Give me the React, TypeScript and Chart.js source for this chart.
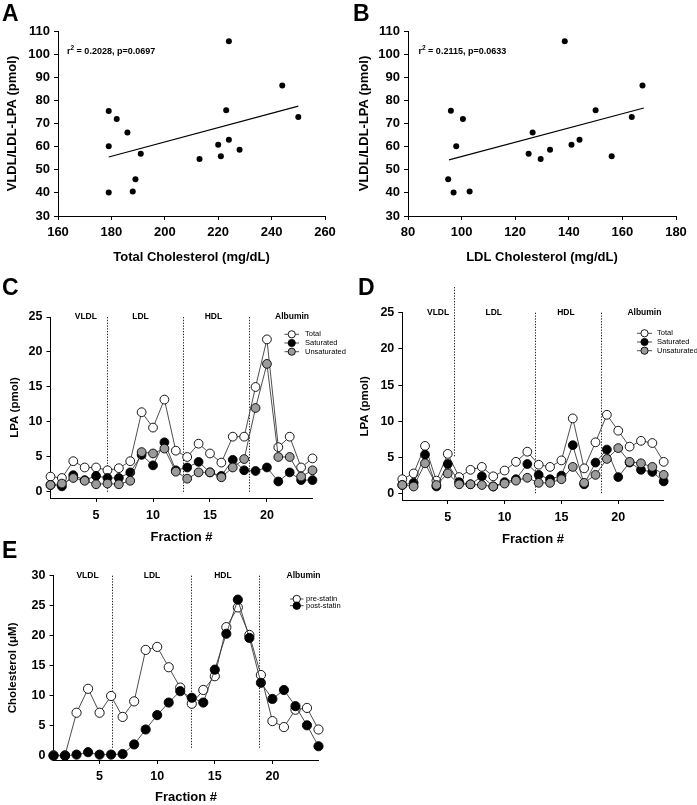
import React, { useEffect, useRef } from 'react';
import { Chart, registerables } from 'chart.js';
Chart.register(...registerables);

const FONT = '"Liberation Sans", Arial, Helvetica, sans-serif';

// ---------- Panel A ----------
const totalCholA = [179, 179, 179, 182, 186, 191, 189, 188, 213, 220, 221, 223, 224, 224, 228, 244, 250];
const lpaA = [75.4, 60.2, 40.2, 72, 66.1, 56.9, 45.9, 40.6, 54.7, 60.8, 55.8, 75.7, 105.6, 63, 58.7, 86.4, 72.8];
const trendAX = [179, 250];
const trendAY = [55.5, 77.5];
const statA = ['r', '2', ' = 0.2028, p=0.0697'];

// ---------- Panel B ----------
const ldlCholB = [96, 98, 95, 97, 100.5, 103, 125, 126.5, 129.5, 133, 138.5, 141, 144, 150, 156, 163.5, 167.5];
const lpaB = [75.5, 60.2, 45.9, 40.2, 72, 40.6, 56.9, 66.1, 54.7, 58.7, 105.6, 60.8, 63, 75.7, 55.8, 72.8, 86.4];
const trendBX = [95.3, 168];
const trendBY = [54.3, 76.7];
const statB = ['r', '2', ' = 0.2115, p=0.0633'];

// ---------- Fractions ----------
const fractions = [1, 2, 3, 4, 5, 6, 7, 8, 9, 10, 11, 12, 13, 14, 15, 16, 17, 18, 19, 20, 21, 22, 23, 24];
const regionNames = ['VLDL', 'LDL', 'HDL', 'Albumin'];

// ---------- Panel C ----------
const totalC = [2.2, 2.0, 4.4, 3.5, 3.5, 3.1, 3.4, 4.4, 11.4, 9.2, 13.2, 5.9, 5.0, 6.9, 5.5, 4.2, 7.9, 7.9, 15.0, 21.8, 6.4, 7.9, 3.5, 4.8];
const saturatedC = [1.0, 0.8, 2.4, 1.7, 2.3, 2.0, 2.0, 2.8, 5.3, 3.8, 7.1, 3.1, 3.5, 4.3, 2.8, 2.3, 4.6, 3.1, 3.0, 3.5, 1.5, 2.8, 1.7, 1.7];
const unsaturatedC = [1.0, 1.2, 2.0, 1.6, 1.1, 1.2, 1.1, 1.6, 5.7, 5.5, 6.2, 2.9, 1.9, 2.8, 2.8, 2.1, 3.5, 4.7, 12.0, 18.3, 5.0, 5.0, 2.2, 3.1];
const regionLabelXC = [4.1, 8.9, 15.3, 22.2];
const boundariesC = [6, 12.65, 18.4];

// ---------- Panel D ----------
const totalD = [2.0, 2.8, 6.6, 1.8, 5.5, 2.3, 3.3, 3.7, 2.4, 3.2, 4.4, 5.8, 4.0, 3.7, 4.6, 10.4, 3.5, 7.1, 10.9, 8.7, 6.5, 7.3, 7.0, 4.4];
const saturatedD = [1.2, 1.5, 5.4, 1.0, 4.1, 1.6, 1.3, 2.4, 1.0, 1.6, 2.0, 4.1, 2.6, 2.0, 2.5, 6.7, 1.3, 4.3, 6.1, 2.3, 4.3, 3.3, 3.0, 1.7];
const unsaturatedD = [1.2, 1.0, 4.2, 1.2, 2.8, 1.3, 1.3, 1.2, 1.0, 1.4, 1.8, 2.2, 1.5, 1.5, 2.0, 3.7, 1.5, 2.6, 4.8, 6.3, 4.4, 4.2, 3.7, 2.6];
const regionLabelXD = [4.15, 9.05, 15.4, 22.3];
const boundariesD = [5.55, 12.7, 18.5];

// ---------- Panel E ----------
const preStatin = [0, 0, 7.1, 11.1, 7.1, 9.9, 6.4, 9.0, 17.6, 18.1, 14.7, 11.3, 8.6, 10.9, 13.2, 21.4, 24.7, 20.1, 13.4, 5.7, 4.7, 7.6, 7.9, 4.3];
const postStatin = [-0.1, -0.1, 0.1, 0.5, 0.1, 0.1, 0.2, 1.8, 4.3, 6.7, 8.8, 10.7, 9.6, 8.8, 14.3, 20.3, 26.0, 19.6, 12.1, 9.4, 10.9, 8.2, 5.0, 1.5];
const regionLabelXE = [3.95, 9.55, 15.7, 22.7];
const boundariesE = [6.05, 12.9, 18.8];

const fracTicks = [5, 10, 15, 20];

type Rect = { x: number; y: number; w: number; h: number };
type Area = { l: number; t: number; r: number; b: number };

interface Spec {
  box: Rect;
  area: Area;
  xMin: number; xMax: number; xTicks: number[]; xTitle: string;
  yMin: number; yMax: number; yTicks: number[]; yTitle: string;
  tickSize: number; yTitleSize: number; yTitlePad: number;
  xTickPad: number; xTitlePad: number;
  datasets: any[];
  letter: { text: string; x: number; y: number };
  drawBefore?: (ctx: CanvasRenderingContext2D, h: Helpers) => void;
  drawAfter?: (ctx: CanvasRenderingContext2D, h: Helpers) => void;
}

interface Helpers {
  px: (v: number) => number;
  py: (v: number) => number;
  cx: (pageX: number) => number;
  cy: (pageY: number) => number;
}

function scatterSet(xs: number[], ys: number[]) {
  return {
    type: 'line',
    data: xs.map((x, i) => ({ x, y: ys[i] })),
    showLine: false,
    pointRadius: 3,
    pointBackgroundColor: '#000',
    pointBorderWidth: 0,
    borderWidth: 0,
    clip: false,
  };
}

function trendSet(xs: number[], ys: number[]) {
  return {
    type: 'line',
    data: xs.map((x, i) => ({ x, y: ys[i] })),
    showLine: true,
    borderColor: '#000',
    borderWidth: 1.2,
    pointRadius: 0,
    clip: false,
  };
}

function fracSet(ys: number[], fill: string, order: number, r: number) {
  return {
    type: 'line',
    data: fractions.map((x, i) => ({ x, y: ys[i] })),
    showLine: true,
    borderColor: '#3a3a3a',
    borderWidth: 0.9,
    backgroundColor: fill,
    pointBackgroundColor: fill,
    pointBorderColor: '#000',
    pointBorderWidth: 0.9,
    pointRadius: r,
    tension: 0,
    fill: false,
    clip: false,
    order,
  };
}

function drawStat(ctx: CanvasRenderingContext2D, parts: string[], x: number, y: number) {
  ctx.fillStyle = '#000';
  ctx.textBaseline = 'alphabetic';
  ctx.textAlign = 'left';
  ctx.font = `bold 9px ${FONT}`;
  ctx.fillText(parts[0], x, y);
  let cx = x + ctx.measureText(parts[0]).width;
  ctx.font = `bold 6.5px ${FONT}`;
  ctx.fillText(parts[1], cx, y - 3.8);
  cx += ctx.measureText(parts[1]).width;
  ctx.font = `bold 9px ${FONT}`;
  ctx.fillText(parts[2], cx, y);
}

function drawRegions(ctx: CanvasRenderingContext2D, h: Helpers, labelX: number[], yVal: number) {
  ctx.fillStyle = '#000';
  ctx.font = `bold 8.5px ${FONT}`;
  ctx.textAlign = 'center';
  ctx.textBaseline = 'middle';
  regionNames.forEach((n, i) => ctx.fillText(n, h.px(labelX[i]), h.py(yVal)));
}

function drawDotted(ctx: CanvasRenderingContext2D, x: number, y0: number, y1: number) {
  ctx.save();
  ctx.strokeStyle = '#222';
  ctx.lineWidth = 1;
  ctx.setLineDash([1.3, 1.5]);
  ctx.beginPath();
  ctx.moveTo(Math.round(x) + 0.5, y0);
  ctx.lineTo(Math.round(x) + 0.5, y1);
  ctx.stroke();
  ctx.restore();
}

function drawLegend(
  ctx: CanvasRenderingContext2D, h: Helpers, names: string[], fills: string[],
  x0: number, x1: number, tx: number, ys: number[], r: number, size: number
) {
  names.forEach((n, i) => {
    const y = h.cy(ys[i]);
    ctx.strokeStyle = '#3a3a3a';
    ctx.lineWidth = 0.9;
    ctx.beginPath();
    ctx.moveTo(h.cx(x0), y);
    ctx.lineTo(h.cx(x1), y);
    ctx.stroke();
    ctx.beginPath();
    ctx.arc(h.cx((x0 + x1) / 2), y, r, 0, Math.PI * 2);
    ctx.fillStyle = fills[i];
    ctx.fill();
    ctx.strokeStyle = '#000';
    ctx.stroke();
    ctx.fillStyle = '#000';
    ctx.font = `${size}px ${FONT}`;
    ctx.textAlign = 'left';
    ctx.textBaseline = 'middle';
    ctx.fillText(n, h.cx(tx), y);
  });
}

function buildConfig(spec: Spec): any {
  const { box, area } = spec;
  const YW = area.l - box.x;
  const XH = box.y + box.h - area.b;
  const padTop = area.t - box.y;
  const padRight = box.x + box.w - area.r;
  const helpers = (chart: any): Helpers => ({
    px: (v) => chart.scales.x.getPixelForValue(v),
    py: (v) => chart.scales.y.getPixelForValue(v),
    cx: (p) => p - box.x,
    cy: (p) => p - box.y,
  });
  const plugin = {
    id: 'annot',
    beforeDatasetsDraw(chart: any) {
      if (spec.drawBefore) {
        const ctx = chart.ctx;
        ctx.save();
        spec.drawBefore(ctx, helpers(chart));
        ctx.restore();
      }
    },
    afterDraw(chart: any) {
      const ctx = chart.ctx;
      const h = helpers(chart);
      ctx.save();
      ctx.fillStyle = '#000';
      ctx.font = `bold 23px ${FONT}`;
      ctx.textAlign = 'left';
      ctx.textBaseline = 'alphabetic';
      ctx.fillText(spec.letter.text, h.cx(spec.letter.x), h.cy(spec.letter.y));
      if (spec.drawAfter) spec.drawAfter(ctx, h);
      ctx.restore();
    },
  };
  const tickFont = { family: FONT, size: spec.tickSize, weight: 'bold' };
  return {
    type: 'line',
    data: { datasets: spec.datasets },
    options: {
      responsive: false,
      maintainAspectRatio: false,
      animation: false,
      devicePixelRatio: 1,
      events: [],
      layout: { padding: { left: 0, top: padTop, right: padRight, bottom: 0 }, autoPadding: false },
      plugins: { legend: { display: false }, tooltip: { enabled: false } },
      scales: {
        x: {
          type: 'linear',
          min: spec.xMin,
          max: spec.xMax,
          afterBuildTicks: (s: any) => { s.ticks = spec.xTicks.map((v) => ({ value: v })); },
          afterFit: (s: any) => { s.height = XH; s.paddingLeft = 0; s.paddingRight = 0; },
          grid: { display: true, drawOnChartArea: false, drawTicks: true, tickLength: 4, tickColor: '#000', tickWidth: 1 },
          border: { display: true, color: '#000', width: 1 },
          ticks: { color: '#000', font: tickFont, padding: spec.xTickPad, maxRotation: 0, autoSkip: false },
          title: { display: true, text: spec.xTitle, color: '#000', font: { family: FONT, size: 13, weight: 'bold' }, padding: { top: 0, bottom: spec.xTitlePad } },
        },
        y: {
          type: 'linear',
          min: spec.yMin,
          max: spec.yMax,
          afterBuildTicks: (s: any) => { s.ticks = spec.yTicks.map((v) => ({ value: v })); },
          afterFit: (s: any) => { s.width = YW; s.paddingTop = 0; s.paddingBottom = 0; },
          grid: { display: true, drawOnChartArea: false, drawTicks: true, tickLength: 4, tickColor: '#000', tickWidth: 1 },
          border: { display: true, color: '#000', width: 1 },
          ticks: { color: '#000', font: tickFont, padding: 4, autoSkip: false },
          title: { display: true, text: spec.yTitle, color: '#000', font: { family: FONT, size: spec.yTitleSize, weight: 'bold' }, padding: { top: spec.yTitlePad, bottom: 0 } },
        },
      },
    },
    plugins: [plugin],
  };
}

const GREY = '#9b9b9b';

const specA: Spec = {
  box: { x: 0, y: 0, w: 340, h: 268 },
  area: { l: 58, t: 31, r: 325, b: 216 },
  xMin: 160, xMax: 260, xTicks: [160, 180, 200, 220, 240, 260], xTitle: 'Total Cholesterol (mg/dL)',
  yMin: 30, yMax: 110, yTicks: [30, 40, 50, 60, 70, 80, 90, 100, 110], yTitle: 'VLDL/LDL-LPA (pmol)',
  tickSize: 13, yTitleSize: 13, yTitlePad: 5, xTickPad: 5, xTitlePad: 3,
  datasets: [scatterSet(totalCholA, lpaA), trendSet(trendAX, trendAY)],
  letter: { text: 'A', x: 2, y: 21 },
  drawAfter: (ctx, h) => drawStat(ctx, statA, h.cx(67), h.cy(53.5)),
};

const specB: Spec = {
  box: { x: 350, y: 0, w: 340, h: 268 },
  area: { l: 408, t: 31, r: 676, b: 216 },
  xMin: 80, xMax: 180, xTicks: [80, 100, 120, 140, 160, 180], xTitle: 'LDL Cholesterol (mg/dL)',
  yMin: 30, yMax: 110, yTicks: [30, 40, 50, 60, 70, 80, 90, 100, 110], yTitle: 'VLDL/LDL-LPA (pmol)',
  tickSize: 13, yTitleSize: 13, yTitlePad: 7, xTickPad: 5, xTitlePad: 3,
  datasets: [scatterSet(ldlCholB, lpaB), trendSet(trendBX, trendBY)],
  letter: { text: 'B', x: 353, y: 21 },
  drawAfter: (ctx, h) => drawStat(ctx, statB, h.cx(418.5), h.cy(53.5)),
};

const specC: Spec = {
  box: { x: 0, y: 270, w: 350, h: 278 },
  area: { l: 50.5, t: 317, r: 312.5, b: 498 },
  xMin: 1, xMax: 24, xTicks: fracTicks, xTitle: 'Fraction #',
  yMin: -0.86, yMax: 25, yTicks: [0, 5, 10, 15, 20, 25], yTitle: 'LPA (pmol)',
  tickSize: 12.5, yTitleSize: 11.5, yTitlePad: 8, xTickPad: 6, xTitlePad: 3,
  datasets: [
    fracSet(unsaturatedC, GREY, 0, 4.4),
    fracSet(saturatedC, '#000', 1, 4.4),
    fracSet(totalC, '#fff', 2, 4.4),
  ],
  letter: { text: 'C', x: 2, y: 295 },
  drawBefore: (ctx, h) => {
    boundariesC.forEach((b) => drawDotted(ctx, h.px(b), h.py(25), h.py(0)));
  },
  drawAfter: (ctx, h) => {
    drawRegions(ctx, h, regionLabelXC, 25);
    drawLegend(ctx, h, ['Total', 'Saturated', 'Unsaturated'], ['#fff', '#000', GREY], 284.5, 299, 305, [334.3, 343, 351.7], 3.6, 7.5);
  },
};

const specD: Spec = {
  box: { x: 352, y: 270, w: 345, h: 280 },
  area: { l: 402.3, t: 312.7, r: 663.7, b: 500 },
  xMin: 1, xMax: 24, xTicks: fracTicks, xTitle: 'Fraction #',
  yMin: -0.87, yMax: 25, yTicks: [0, 5, 10, 15, 20, 25], yTitle: 'LPA (pmol)',
  tickSize: 12.5, yTitleSize: 11.5, yTitlePad: 6, xTickPad: 6, xTitlePad: 3,
  datasets: [
    fracSet(unsaturatedD, GREY, 0, 4.4),
    fracSet(saturatedD, '#000', 1, 4.4),
    fracSet(totalD, '#fff', 2, 4.4),
  ],
  letter: { text: 'D', x: 358, y: 295 },
  drawBefore: (ctx, h) => {
    drawDotted(ctx, h.px(boundariesD[0]), h.cy(287), h.py(5.1));
    drawDotted(ctx, h.px(boundariesD[1]), h.py(25), h.py(0));
    drawDotted(ctx, h.px(boundariesD[2]), h.py(25), h.py(0));
  },
  drawAfter: (ctx, h) => {
    drawRegions(ctx, h, regionLabelXD, 25);
    drawLegend(ctx, h, ['Total', 'Saturated', 'Unsaturated'], ['#fff', '#000', GREY], 637, 652, 657, [333.3, 342, 350.7], 3.6, 7.5);
  },
};

const specE: Spec = {
  box: { x: 0, y: 536, w: 352, h: 269 },
  area: { l: 53.5, t: 575.7, r: 318.5, b: 760 },
  xMin: 1, xMax: 24, xTicks: fracTicks, xTitle: 'Fraction #',
  yMin: -0.8, yMax: 30, yTicks: [0, 5, 10, 15, 20, 25, 30], yTitle: 'Cholesterol (\u03bcM)',
  tickSize: 12.5, yTitleSize: 11.5, yTitlePad: 6, xTickPad: 5, xTitlePad: 0,
  datasets: [
    fracSet(postStatin, '#000', 0, 4.6),
    fracSet(preStatin, '#fff', 1, 4.6),
  ],
  letter: { text: 'E', x: 2, y: 558 },
  drawBefore: (ctx, h) => {
    boundariesE.forEach((b) => drawDotted(ctx, h.px(b), h.py(30), h.py(1.1)));
  },
  drawAfter: (ctx, h) => {
    drawRegions(ctx, h, regionLabelXE, 30);
    drawLegend(ctx, h, ['pre-statin', 'post-statin'], ['#fff', '#000'], 290, 303.5, 306, [599, 605.7], 3.7, 7.5);
  },
};

function Panel({ spec }: { spec: Spec }) {
  const ref = useRef<HTMLCanvasElement>(null);
  useEffect(() => {
    const chart = new Chart(ref.current as HTMLCanvasElement, buildConfig(spec));
    return () => chart.destroy();
  }, []);
  return (
    <canvas
      ref={ref}
      width={spec.box.w}
      height={spec.box.h}
      style={{ position: 'absolute', left: spec.box.x, top: spec.box.y, width: spec.box.w, height: spec.box.h }}
    />
  );
}

export default function App() {
  useEffect(() => {
    document.body.style.margin = '0';
    document.body.style.overflow = 'hidden';
  }, []);
  return (
    <div style={{ position: 'absolute', left: 0, top: 0, width: 697, height: 805, background: '#fff', overflow: 'hidden' }}>
      <Panel spec={specA} />
      <Panel spec={specB} />
      <Panel spec={specC} />
      <Panel spec={specD} />
      <Panel spec={specE} />
    </div>
  );
}
